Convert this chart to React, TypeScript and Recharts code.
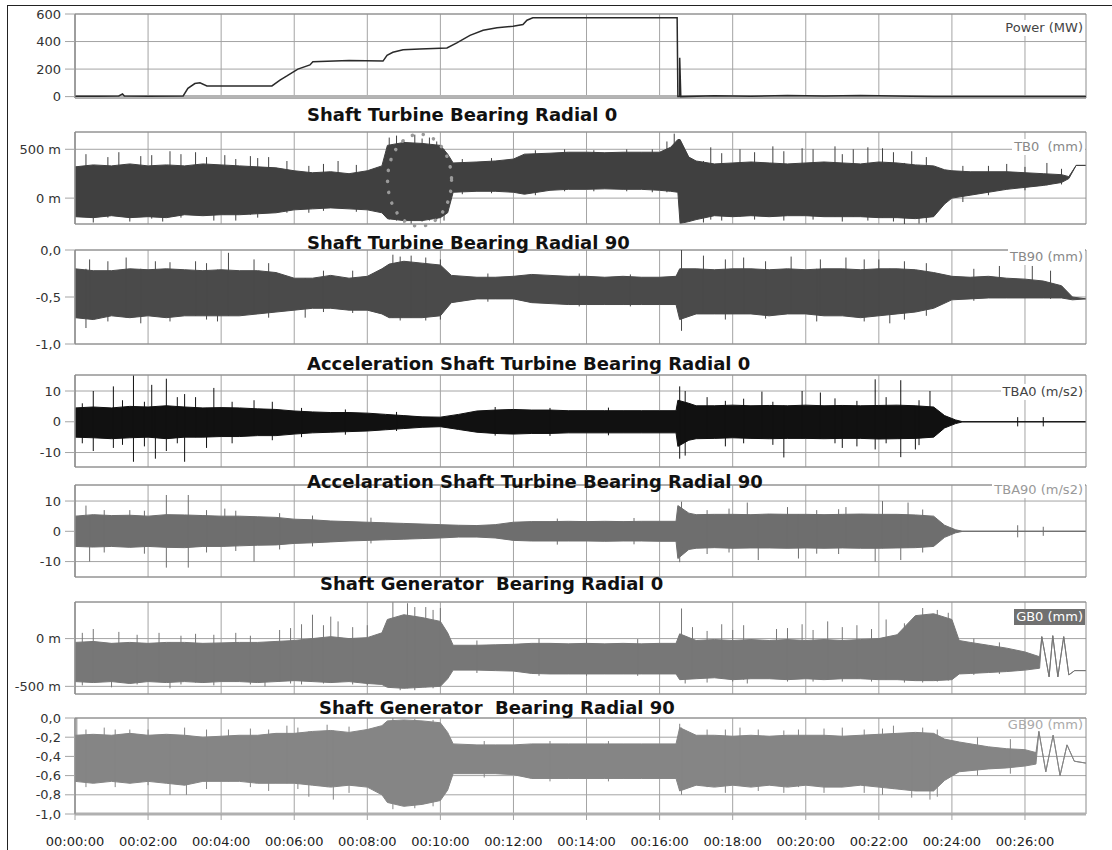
import {
  Area,
  CartesianGrid,
  ComposedChart,
  Line,
  ReferenceArea,
  ReferenceDot,
  ReferenceLine,
  XAxis,
  YAxis,
} from "recharts";

// time axis in minutes
const T_MAX = 27.67;
const timeTicks = [0, 2, 4, 6, 8, 10, 12, 14, 16, 18, 20, 22, 24, 26];

type Env = [number, number, number][]; // [t, low, high]
type Spike = [number, number, number]; // [t, low, high]

const powerMW: [number, number][] = [
  [0, 3], [0.6, 2], [1.2, 5], [1.3, 20], [1.35, 4], [2, 3], [2.96, 5], [3.09, 60],
  [3.28, 95], [3.42, 100], [3.61, 78], [5.39, 78], [5.61, 120], [5.8, 150], [6.1, 200],
  [6.43, 230], [6.51, 253], [7.5, 262], [8.43, 258], [8.54, 300], [8.7, 322], [8.98, 340],
  [9.44, 346], [10.18, 353], [10.45, 390], [10.81, 445], [11.17, 482], [11.55, 500],
  [11.99, 511], [12.26, 523], [12.37, 555], [12.53, 572], [16.48, 572], [16.5, 0],
  [16.55, 0], [16.55, 282], [16.58, 0], [17.5, 6], [18.5, 3], [19.5, 8], [20.5, 4],
  [21.5, 9], [22, 6], [22.9, 2], [23.5, 0], [27.67, 0],
];

const tb0Env: Env = [
  [0, -190, 320], [0.5, -200, 340], [1, -180, 330], [1.5, -200, 350], [2, -190, 330],
  [2.5, -200, 340], [3, -170, 330], [3.5, -180, 350], [4, -170, 340], [4.5, -170, 330],
  [5, -160, 320], [5.5, -150, 310], [6, -120, 280], [6.5, -110, 260], [7, -100, 270],
  [7.5, -110, 250], [8, -120, 280], [8.4, -150, 330], [8.55, -210, 540], [9, -230, 570],
  [9.5, -230, 560], [10, -200, 540], [10.2, -150, 450], [10.35, 60, 360], [11, 70, 370],
  [11.5, 70, 380], [12, 60, 400], [12.3, 40, 450], [13, 80, 460], [13.5, 90, 470],
  [14, 90, 470], [14.5, 95, 465], [15, 90, 470], [15.5, 90, 470], [16, 80, 470],
  [16.3, 70, 520], [16.5, 60, 600], [16.56, -260, 600], [16.8, -240, 420], [17, -220, 380],
  [17.5, -180, 350], [18, -190, 360], [18.5, -180, 370], [19, -190, 360], [19.5, -180, 350],
  [20, -180, 360], [20.5, -190, 370], [21, -190, 360], [21.5, -190, 350], [22, -200, 370],
  [22.5, -200, 360], [23, -210, 340], [23.5, -190, 330], [23.8, -60, 290], [24, 0, 280],
  [24.5, 30, 270], [25, 60, 270], [25.5, 90, 270], [26, 110, 260], [26.5, 130, 250],
  [27, 160, 240], [27.2, 200, 220], [27.4, 335, 335], [27.67, 335, 335],
];
const tb0Spikes: Spike[] = [
  [0.3, -180, 450], [0.5, -250, 300], [0.9, -200, 420], [1.2, -190, 470], [1.5, -240, 320],
  [1.8, -180, 430], [2.1, -210, 440], [2.4, -240, 330], [2.6, -190, 480], [2.9, -200, 450],
  [3.3, -170, 470], [3.6, -180, 420], [3.8, -230, 330], [4.1, -170, 440], [4.4, -230, 400],
  [4.8, -170, 430], [5, -200, 410], [5.3, -150, 420], [5.8, -150, 380], [6.4, -150, 330],
  [6.8, -130, 350], [7.2, -100, 380], [7.7, -140, 340], [8.6, -220, 620], [8.8, -230, 640],
  [9, -250, 600], [9.2, -260, 560], [9.3, -230, 650], [9.5, -240, 610], [9.7, -230, 620],
  [9.9, -220, 580], [10.1, -230, 500], [10.6, 40, 400], [11.4, 50, 410], [12.6, 30, 490],
  [13.4, 70, 500], [14.2, 70, 490], [15.1, 70, 500], [15.8, 60, 500], [16.2, 60, 580],
  [16.4, 80, 660], [16.6, -268, 560], [17.2, -250, 380], [17.4, -220, 520], [17.7, -230, 460],
  [18.2, -190, 500], [18.6, -220, 470], [19.1, -190, 530], [19.4, -230, 480], [19.9, -180, 510],
  [20.2, -220, 500], [20.8, -190, 530], [21, -240, 450], [21.3, -190, 500], [21.7, -230, 520],
  [22.1, -200, 510], [22.4, -240, 470], [22.7, -265, 360], [22.9, -200, 480], [23.1, -260, 340],
  [23.3, -250, 420], [24.3, -40, 330], [25, 30, 330], [25.5, 90, 350], [26, 80, 320],
  [26.6, 130, 360], [27, 140, 300],
];

const tb90Env: Env = [
  [0, -0.72, -0.2], [0.5, -0.74, -0.22], [1, -0.7, -0.22], [1.5, -0.72, -0.2], [2, -0.7, -0.21],
  [2.5, -0.72, -0.2], [3, -0.7, -0.21], [3.5, -0.7, -0.22], [4, -0.7, -0.21], [4.5, -0.7, -0.22],
  [5, -0.68, -0.22], [5.5, -0.66, -0.24], [6, -0.64, -0.3], [6.5, -0.62, -0.3], [7, -0.62, -0.27],
  [7.5, -0.64, -0.3], [8, -0.64, -0.28], [8.4, -0.68, -0.2], [8.6, -0.72, -0.15], [9, -0.72, -0.12],
  [9.5, -0.72, -0.14], [10, -0.7, -0.16], [10.3, -0.56, -0.27], [11, -0.52, -0.29],
  [11.5, -0.52, -0.29], [12, -0.52, -0.28], [12.5, -0.56, -0.26], [13, -0.57, -0.27],
  [13.5, -0.58, -0.28], [14, -0.58, -0.28], [14.5, -0.58, -0.29], [15, -0.58, -0.28],
  [15.5, -0.58, -0.29], [16, -0.58, -0.29], [16.45, -0.58, -0.28], [16.55, -0.74, -0.2],
  [17, -0.68, -0.2], [17.5, -0.68, -0.21], [18, -0.68, -0.2], [18.5, -0.68, -0.2],
  [19, -0.7, -0.21], [19.5, -0.68, -0.2], [20, -0.68, -0.21], [20.5, -0.7, -0.2], [21, -0.7, -0.2],
  [21.5, -0.72, -0.21], [22, -0.7, -0.2], [22.5, -0.68, -0.2], [23, -0.66, -0.21],
  [23.5, -0.62, -0.24], [24, -0.53, -0.28], [24.5, -0.52, -0.29], [25, -0.51, -0.28],
  [25.5, -0.51, -0.3], [26, -0.51, -0.31], [26.5, -0.51, -0.33], [27, -0.51, -0.38],
  [27.3, -0.53, -0.5], [27.67, -0.52, -0.52],
];
const tb90Spikes: Spike[] = [
  [0.3, -0.83, -0.2], [0.4, -0.72, -0.1], [0.9, -0.76, -0.12], [1.4, -0.72, -0.08],
  [1.8, -0.78, -0.2], [2.2, -0.7, -0.12], [2.6, -0.76, -0.13], [3.3, -0.7, -0.12],
  [3.6, -0.74, -0.14], [3.9, -0.76, -0.21], [4.2, -0.7, -0.03], [4.9, -0.68, -0.1],
  [5.3, -0.72, -0.14], [6.3, -0.72, -0.3], [6.8, -0.66, -0.22], [7.6, -0.67, -0.22],
  [8.7, -0.72, -0.05], [8.9, -0.75, -0.07], [9.2, -0.72, -0.06], [9.6, -0.75, -0.08],
  [10, -0.74, -0.1], [11.3, -0.55, -0.25], [13.8, -0.6, -0.25], [15.2, -0.6, -0.26],
  [16.6, -0.86, 0], [17.2, -0.68, -0.06], [17.8, -0.74, -0.1], [18.3, -0.68, -0.08],
  [18.9, -0.73, -0.12], [19.6, -0.68, -0.07], [20.3, -0.76, -0.2], [20.4, -0.7, -0.1],
  [21.1, -0.7, -0.08], [21.6, -0.76, -0.1], [22, -0.7, -0.1], [22.3, -0.78, -0.2],
  [22.7, -0.74, -0.12], [23.3, -0.7, -0.14], [24.6, -0.54, -0.2], [25.3, -0.51, -0.17],
  [26.2, -0.51, -0.17], [26.7, -0.52, -0.22],
];

const tba0Env: Env = [
  [0, -5, 4.5], [0.5, -5.2, 4.8], [1, -5.5, 4.5], [1.5, -5.2, 5], [2, -5, 4.8], [2.5, -5.5, 5.2],
  [3, -5, 4.8], [3.5, -5, 4.5], [4, -4.8, 4.6], [4.5, -4.8, 4.5], [5, -4.5, 4.2], [5.5, -4.5, 4],
  [6, -4, 3.5], [6.5, -3.6, 3.2], [7, -3.4, 3], [7.5, -3.2, 3], [8, -3, 2.8], [8.5, -2.6, 2.4],
  [9, -2.2, 2], [9.5, -1.8, 1.6], [10, -1.6, 1.5], [10.5, -2.5, 2.4], [11, -3.4, 3.5],
  [11.5, -3.8, 3.8], [12, -4, 4], [12.5, -3.8, 3.8], [13, -3.8, 3.8], [13.5, -3.6, 3.6],
  [14, -3.6, 3.6], [14.5, -3.6, 3.6], [15, -3.6, 3.6], [15.5, -3.6, 3.6], [16, -3.6, 3.6],
  [16.45, -3.6, 3.6], [16.5, -8, 7], [16.8, -6, 6], [17, -5.5, 5.2], [17.5, -5.4, 5.2],
  [18, -5.2, 5.4], [18.5, -5.4, 5.2], [19, -5.5, 5.3], [19.5, -5.4, 5.2], [20, -5.4, 5.4],
  [20.5, -5.5, 5.2], [21, -5.4, 5.3], [21.5, -5.4, 5.2], [22, -5.6, 5.3], [22.5, -5.5, 5.4],
  [23, -5.4, 5.2], [23.5, -5, 4.8], [23.8, -2, 2], [24.1, -0.6, 0.6], [24.3, 0, 0], [27.67, 0, 0],
];
const tba0Spikes: Spike[] = [
  [0.2, -7, 6], [0.5, -9.5, 10], [1.05, -8.5, 11.5], [1.3, -7.5, 7], [1.6, -13, 15],
  [1.9, -8, 6.5], [2.1, -5, 12], [2.2, -12, 5], [2.5, -9.5, 14], [2.8, -7, 8], [3, -13, 9],
  [3.3, -5, 8], [3.6, -8.5, 4.5], [3.8, -4.8, 11], [4.3, -7, 6.5], [4.9, -4.5, 7],
  [5.4, -6, 6.5], [6.2, -5, 4.5], [7.4, -4.2, 4], [8.8, -3, 3.2], [11.5, -4.5, 4.8],
  [13, -4.6, 4.5], [14.6, -4.4, 4.6], [16.55, -12, 11.5], [16.7, -11, 10], [17.3, -5.4, 8],
  [17.8, -8, 6.8], [18.3, -7, 7.5], [18.8, -5.4, 9.8], [19.1, -7.5, 6.5], [19.4, -11.6, 5.3],
  [19.9, -5.4, 10], [20.4, -5.5, 9.5], [20.8, -7, 7.6], [21, -8.5, 5.3], [21.4, -8, 6.8],
  [21.9, -9, 13.8], [22.2, -7, 8], [22.6, -11.5, 13.5], [23, -9, 5.2], [23.1, -7.6, 7],
  [23.4, -5, 10], [25.8, -1.5, 1.5], [26.5, -1.5, 1.5],
];

const tba90Env: Env = [
  [0, -5, 5], [0.5, -5.2, 5.5], [1, -5, 5.2], [1.5, -5.3, 5.3], [2, -5, 5], [2.5, -5.3, 5.5],
  [3, -5.4, 5.4], [3.5, -5, 5.2], [4, -5, 5], [4.5, -4.8, 5], [5, -4.6, 4.8], [5.5, -4.5, 4.6],
  [6, -4, 4], [6.5, -3.8, 3.8], [7, -3.5, 3.4], [7.5, -3.2, 3.2], [8, -3, 3], [8.5, -2.8, 2.8],
  [9, -2.6, 2.6], [9.5, -2.4, 2.4], [10, -2.2, 2.2], [10.5, -1.9, 2], [11, -1.9, 1.9],
  [11.5, -2.2, 2.2], [12, -3, 3], [12.5, -3.2, 3.2], [13, -3.2, 3.2], [13.5, -3.2, 3.3],
  [14, -3.2, 3.2], [14.5, -3.3, 3.3], [15, -3.2, 3.2], [15.5, -3.2, 3.3], [16, -3.3, 3.3],
  [16.45, -3.3, 3.3], [16.5, -9, 8.5], [16.8, -6, 6], [17, -5.6, 5.5], [17.5, -5.4, 5.6],
  [18, -5.6, 5.6], [18.5, -5.5, 5.5], [19, -5.5, 5.7], [19.5, -5.6, 5.6], [20, -5.5, 5.6],
  [20.5, -5.6, 5.5], [21, -5.5, 5.6], [21.5, -5.6, 5.7], [22, -5.6, 5.6], [22.5, -5.5, 5.6],
  [23, -5.4, 5.4], [23.5, -5, 5], [23.8, -2, 2], [24.1, -0.5, 0.5], [24.3, 0, 0], [27.67, 0, 0],
];
const tba90Spikes: Spike[] = [
  [0.3, -5, 8.5], [0.4, -10, 5], [0.8, -7, 7], [1.5, -5, 7], [1.9, -7.4, 6.8], [2.5, -12, 12],
  [3.1, -12, 12], [3.6, -7, 7], [4.1, -5, 7.5], [4.4, -6.5, 6.8], [4.9, -10, 4.8], [5.6, -6, 6],
  [6.5, -5, 5.2], [8.1, -4, 4.5], [13.2, -4.4, 4.2], [15.3, -4.3, 4.4], [16.55, -10.2, 5.5],
  [16.6, -5.5, 9.8], [17.3, -7.5, 7], [17.9, -7, 7.5], [18.4, -5.5, 9.5], [18.7, -9.5, 5.5],
  [19.5, -5.6, 8], [19.8, -9, 5.6], [20.3, -7.4, 7], [20.9, -7.5, 7.3], [21.1, -5.5, 8],
  [21.9, -10, 5.6], [22.1, -5.6, 10], [22.6, -9.5, 5.5], [22.8, -5.5, 9.5], [23.2, -7, 7.2],
  [25.8, -2, 2], [26.5, -1.5, 1.5],
];

const gb0Env: Env = [
  [0, -450, -40], [0.5, -460, -30], [1, -450, -50], [1.5, -470, -40], [2, -450, -50],
  [2.5, -460, -40], [3, -450, -40], [3.5, -460, -50], [4, -450, -45], [4.5, -450, -40],
  [5, -460, -40], [5.5, -450, -30], [6, -440, -20], [6.5, -450, 0], [7, -460, 20], [7.5, -450, 0],
  [8, -470, 10], [8.4, -480, 60], [8.55, -510, 200], [9, -520, 250], [9.5, -510, 220],
  [10, -500, 180], [10.2, -420, 60], [10.35, -330, -70], [11, -330, -70], [11.5, -335, -65],
  [12, -340, -60], [12.5, -365, -50], [13, -370, -50], [13.5, -370, -55], [14, -370, -50],
  [14.5, -370, -55], [15, -370, -50], [15.5, -370, -55], [16, -370, -50], [16.45, -370, -50],
  [16.55, -430, 50], [17, -420, -20], [17.5, -410, -10], [18, -430, -20], [18.5, -420, -10],
  [19, -420, -20], [19.5, -430, -10], [20, -420, -20], [20.5, -430, -10], [21, -420, -20],
  [21.5, -420, -10], [22, -430, 0], [22.5, -430, 40], [23, -440, 240], [23.5, -440, 260],
  [24, -430, 200], [24.2, -370, -20], [24.5, -365, -40], [25, -355, -70], [25.5, -345, -100],
  [26, -330, -140], [26.4, -310, -190], [26.46, 20, 20], [26.66, -400, -400], [26.76, 30, 30],
  [26.9, -400, -400], [27.06, 20, 20], [27.2, -380, -380], [27.36, -335, -335], [27.67, -335, -335],
];
const gb0Spikes: Spike[] = [
  [0.2, -490, 60], [0.5, -450, 100], [1, -510, -50], [1.2, -450, 70], [1.7, -480, 40],
  [2.3, -450, 60], [2.6, -520, -40], [2.9, -480, 30], [3.3, -460, 50], [3.8, -490, 40],
  [4.4, -450, 60], [4.8, -480, 30], [5.2, -500, -40], [5.6, -450, 90], [5.9, -470, 110],
  [6.2, -480, 150], [6.5, -450, 250], [6.8, -470, 140], [7, -460, 230], [7.2, -450, 180],
  [7.6, -480, 120], [8, -490, 140], [8.7, -510, 380], [8.9, -540, 200], [9.1, -520, 370],
  [9.3, -540, 330], [9.6, -510, 330], [9.8, -520, 300], [10, -500, 320], [11, -360, -20],
  [12.7, -390, 0], [14, -390, 0], [15.4, -390, -5], [16.6, -430, 315], [16.7, -470, 0],
  [16.9, -420, 120], [17.3, -460, 80], [17.7, -420, 150], [18, -450, 90], [18.3, -430, 140],
  [18.4, -470, -20], [19.2, -420, 100], [19.5, -450, 110], [19.9, -420, 150], [20.2, -450, 90],
  [20.6, -430, 180], [21, -450, 120], [21.4, -420, 140], [21.8, -450, 100], [22.2, -430, 200],
  [22.7, -460, 160], [23.2, -460, 320], [23.6, -450, 300], [23.9, -440, 270], [24.6, -380, 0],
  [25.3, -370, -40],
];

const gb90Env: Env = [
  [0, -0.66, -0.18], [0.5, -0.68, -0.17], [1, -0.66, -0.18], [1.5, -0.68, -0.16], [2, -0.66, -0.18],
  [2.5, -0.68, -0.17], [3, -0.7, -0.18], [3.5, -0.66, -0.2], [4, -0.66, -0.19], [4.5, -0.66, -0.18],
  [5, -0.68, -0.18], [5.5, -0.68, -0.16], [6, -0.68, -0.16], [6.5, -0.7, -0.14], [7, -0.72, -0.13],
  [7.5, -0.7, -0.15], [8, -0.72, -0.12], [8.4, -0.8, -0.08], [8.55, -0.88, -0.03], [9, -0.92, -0.02],
  [9.5, -0.9, -0.03], [10, -0.86, -0.05], [10.2, -0.75, -0.15], [10.35, -0.58, -0.27],
  [11, -0.58, -0.28], [11.5, -0.58, -0.28], [12, -0.59, -0.28], [12.5, -0.63, -0.27],
  [13, -0.63, -0.27], [13.5, -0.63, -0.27], [14, -0.63, -0.27], [14.5, -0.63, -0.27],
  [15, -0.63, -0.27], [15.5, -0.63, -0.27], [16, -0.63, -0.27], [16.45, -0.63, -0.27],
  [16.55, -0.76, -0.1], [17, -0.7, -0.18], [17.5, -0.72, -0.18], [18, -0.7, -0.19],
  [18.5, -0.72, -0.18], [19, -0.7, -0.19], [19.5, -0.72, -0.18], [20, -0.7, -0.18],
  [20.5, -0.72, -0.18], [21, -0.72, -0.19], [21.5, -0.7, -0.18], [22, -0.72, -0.17],
  [22.5, -0.74, -0.16], [23, -0.76, -0.15], [23.5, -0.76, -0.16], [23.8, -0.65, -0.22],
  [24.2, -0.56, -0.25], [25, -0.53, -0.3], [25.5, -0.52, -0.32], [26, -0.5, -0.33],
  [26.3, -0.48, -0.36], [26.38, -0.14, -0.14], [26.57, -0.56, -0.56], [26.77, -0.18, -0.18],
  [26.96, -0.6, -0.6], [27.15, -0.28, -0.28], [27.35, -0.45, -0.45], [27.67, -0.47, -0.47],
];
const gb90Spikes: Spike[] = [
  [0.05, -0.66, 0], [0.3, -0.72, -0.12], [0.8, -0.66, -0.1], [1.1, -0.72, -0.12],
  [1.5, -0.68, -0.12], [2, -0.7, -0.12], [2.6, -0.8, -0.17], [3, -0.7, -0.1], [3.05, -0.8, -0.18],
  [3.6, -0.74, -0.12], [4.2, -0.66, -0.12], [4.8, -0.72, -0.11], [5.3, -0.76, -0.12],
  [5.8, -0.68, -0.08], [6.1, -0.74, -0.1], [6.4, -0.82, -0.14], [6.9, -0.72, -0.07],
  [7.07, -0.85, -0.13], [7.5, -0.78, -0.09], [8.7, -0.95, 0], [9.3, -0.94, -0.01],
  [9.8, -0.92, -0.02], [11.2, -0.62, -0.24], [13, -0.66, -0.24], [14.6, -0.66, -0.24],
  [16.55, -0.76, -0.06], [16.6, -0.8, -0.1], [17.3, -0.72, -0.12], [17.8, -0.78, -0.12],
  [18.2, -0.7, -0.1], [18.7, -0.76, -0.12], [19.4, -0.78, -0.13], [19.8, -0.72, -0.12],
  [20.5, -0.78, -0.11], [21, -0.72, -0.1], [21.6, -0.78, -0.12], [22.1, -0.8, -0.11],
  [22.4, -0.74, -0.08], [22.9, -0.83, -0.16], [23.2, -0.76, -0.1], [23.4, -0.85, -0.16],
  [23.6, -0.82, -0.12], [24.7, -0.6, -0.2], [25.6, -0.58, -0.22],
];

const W = 1112;
const PLOT_R = 1086;
const FONT = "'DejaVu Sans', Verdana, sans-serif";
const GRID = "#a4a4a4";

const milli = (v: number) => `${v} m`;
const comma = (v: number) => v.toFixed(1).replace(".", ",");
const plain = (v: number) => `${v}`;
const clock = (m: number) => `00:${String(m).padStart(2, "0")}:00`;

// vertical grid at the 2-minute ticks, placed on the plot offset
const timeGrid = ({ offset }: { offset: { left: number; width: number } }) =>
  timeTicks.map((t) => offset.left + (t / T_MAX) * offset.width);

interface PanelProps {
  top: number;
  bottom: number;
  domain: [number, number];
  ticks: number[];
  fmt: (v: number) => string;
  rows: Record<string, unknown>[];
  bottomAxis?: boolean;
  children?: React.ReactNode;
}

function Panel({ top, bottom, domain, ticks, fmt, rows, bottomAxis, children }: PanelProps) {
  const mt = 8;
  const mb = bottomAxis ? 0 : 8;
  const xh = bottomAxis ? 40 : 0;
  const h = bottom - top + mt + mb + xh;
  return (
    <div style={{ position: "absolute", left: 0, top: top - mt }}>
      <ComposedChart
        width={W}
        height={h}
        data={rows}
        margin={{ top: mt, right: W - PLOT_R, bottom: mb, left: 0 }}
      >
        <CartesianGrid stroke={GRID} verticalCoordinatesGenerator={timeGrid} />
        <XAxis
          dataKey="t"
          type="number"
          domain={[0, T_MAX]}
          ticks={timeTicks}
          interval={0}
          allowDataOverflow
          height={xh}
          hide={!bottomAxis}
          axisLine={false}
          tickLine={{ stroke: GRID }}
          tickSize={6}
          tickMargin={17}
          tick={{ fontSize: 13, fill: "#222", fontFamily: FONT }}
          tickFormatter={clock}
        />
        <YAxis
          type="number"
          domain={domain}
          ticks={ticks}
          interval={0}
          allowDataOverflow
          width={75}
          tickSize={10}
          tickMargin={4}
          axisLine={{ stroke: "#8c8c8c" }}
          tickLine={{ stroke: GRID }}
          tick={{ fontSize: 13, fill: "#333", fontFamily: FONT }}
          tickFormatter={fmt}
        />
        {children}
        <ReferenceArea
          x1={0}
          x2={T_MAX}
          y1={domain[0]}
          y2={domain[1]}
          fill="none"
          fillOpacity={0}
          stroke="#8c8c8c"
          ifOverflow="visible"
        />
      </ComposedChart>
    </div>
  );
}

const bandRows = (env: Env) => env.map(([t, lo, hi]) => ({ t, band: [lo, hi] }));

function band(color: string) {
  return (
    <Area
      key="band"
      type="linear"
      dataKey="band"
      stroke={color}
      strokeWidth={1}
      fill={color}
      fillOpacity={1}
      dot={false}
      activeDot={false}
      isAnimationActive={false}
    />
  );
}

function spikeLines(spikes: Spike[], color: string) {
  return spikes.map(([t, lo, hi], i) => (
    <ReferenceLine
      key={`s${i}`}
      segment={[
        { x: t, y: lo },
        { x: t, y: hi },
      ]}
      stroke={color}
      strokeWidth={1}
    />
  ));
}

const titles: [string, number, number][] = [
  ["Shaft Turbine Bearing Radial 0", 307, 115],
  ["Shaft Turbine Bearing Radial 90", 307, 243],
  ["Acceleration Shaft Turbine Bearing Radial 0", 307, 364],
  ["Accelaration Shaft Turbine Bearing Radial 90", 307, 482],
  ["Shaft Generator  Bearing Radial 0", 320, 584],
  ["Shaft Generator  Bearing Radial 90", 319, 708],
];

const seriesLabels: [string, number, string, string][] = [
  ["Power (MW)", 28, "#444", "#fff"],
  ["TB0  (mm)", 147, "#888", "#fff"],
  ["TB90 (mm)", 257, "#888", "#fff"],
  ["TBA0 (m/s2)", 392, "#444", "#fff"],
  ["TBA90 (m/s2)", 490, "#999", "#fff"],
  ["GB0 (mm)", 617, "#fff", "#707070"],
  ["GB90 (mm)", 725, "#aaa", "transparent"],
];

export default function App() {
  const powerRows = powerMW.map(([t, mw]) => ({ t, mw }));
  return (
    <div
      style={{
        position: "absolute",
        left: 0,
        top: 0,
        width: W,
        height: 850,
        background: "#fff",
        fontFamily: FONT,
        overflow: "hidden",
      }}
    >
      <div
        style={{
          position: "absolute",
          left: 7,
          top: 5,
          width: W,
          height: 850,
          borderLeft: "1px solid #222",
          borderTop: "1px solid #222",
        }}
      />

      <Panel top={14} bottom={98} domain={[-10, 600]} ticks={[0, 200, 400, 600]} fmt={plain} rows={powerRows}>
        <ReferenceLine y={0} stroke="#b4b4b4" strokeWidth={3} />
        <Line
          type="linear"
          dataKey="mw"
          stroke="#2a2a2a"
          strokeWidth={1.5}
          dot={false}
          activeDot={false}
          isAnimationActive={false}
        />
      </Panel>

      <Panel top={132} bottom={224} domain={[-265, 677]} ticks={[0, 500]} fmt={milli} rows={bandRows(tb0Env)}>
        {band("#404040")}
        {spikeLines(tb0Spikes, "#404040")}
        <ReferenceDot
          x={9.43}
          y={183}
          r={0}
          ifOverflow="visible"
          shape={(p: { cx?: number; cy?: number }) => (
            <ellipse
              cx={p.cx}
              cy={p.cy}
              rx={32}
              ry={46}
              fill="none"
              stroke="#9a9a9a"
              strokeWidth={3.5}
              strokeDasharray="0.1 11"
              strokeLinecap="round"
            />
          )}
        />
      </Panel>

      <Panel top={250} bottom={344} domain={[-1, 0]} ticks={[0, -0.5, -1]} fmt={comma} rows={bandRows(tb90Env)}>
        {band("#4a4a4a")}
        {spikeLines(tb90Spikes, "#4a4a4a")}
      </Panel>

      <Panel top={375} bottom={467} domain={[-14.7, 15.2]} ticks={[10, 0, -10]} fmt={plain} rows={bandRows(tba0Env)}>
        {band("#111111")}
        {spikeLines(tba0Spikes, "#111111")}
      </Panel>

      <Panel top={485} bottom={577} domain={[-15.1, 15.3]} ticks={[10, 0, -10]} fmt={plain} rows={bandRows(tba90Env)}>
        {band("#6e6e6e")}
        {spikeLines(tba90Spikes, "#6e6e6e")}
      </Panel>

      <Panel top={602} bottom={694} domain={[-580, 383]} ticks={[0, -500]} fmt={milli} rows={bandRows(gb0Env)}>
        {band("#777777")}
        {spikeLines(gb0Spikes, "#777777")}
      </Panel>

      <Panel
        top={718}
        bottom={814}
        domain={[-1, 0]}
        ticks={[0, -0.2, -0.4, -0.6, -0.8, -1]}
        fmt={comma}
        rows={bandRows(gb90Env)}
        bottomAxis
      >
        <ReferenceLine y={-1} stroke="#b0b0b0" strokeWidth={3} />
        {band("#858585")}
        {spikeLines(gb90Spikes, "#858585")}
      </Panel>

      {titles.map(([text, x, y]) => (
        <div
          key={text}
          style={{
            position: "absolute",
            left: x,
            top: y - 11,
            lineHeight: "22px",
            fontSize: 18,
            fontWeight: "bold",
            color: "#111",
            whiteSpace: "pre",
          }}
        >
          {text}
        </div>
      ))}

      {seriesLabels.map(([text, y, color, bg]) => (
        <div
          key={text}
          style={{
            position: "absolute",
            right: W - 1085,
            top: y - 8,
            lineHeight: "16px",
            fontSize: 13,
            color,
            background: bg,
            padding: "0 2px",
            whiteSpace: "pre",
          }}
        >
          {text}
        </div>
      ))}
    </div>
  );
}
